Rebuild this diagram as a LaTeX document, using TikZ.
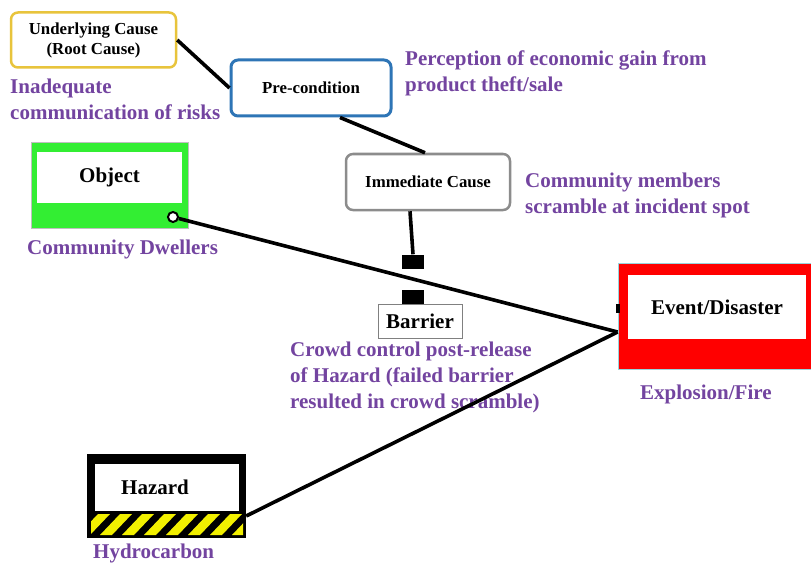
\documentclass[tikz,border=0pt]{standalone}
\usepackage{fontspec}
\setmainfont{Liberation Serif}
\definecolor{purp}{HTML}{7344A0}
\definecolor{gold}{HTML}{E8C43C}
\definecolor{preblue}{HTML}{2E75B6}
\definecolor{immgray}{HTML}{8C8C8C}
\definecolor{objgreen}{HTML}{33EE33}
\definecolor{hazyellow}{HTML}{F2F000}
\definecolor{evcyan}{HTML}{9AD4DC}
\begin{document}
\begin{tikzpicture}[x=1pt,y=-1pt,
  causebox/.style={rounded corners=7pt, fill=white, align=center, inner sep=0pt,
    font=\bfseries\fontsize{16.8}{20}\selectfont},
  boxlabel/.style={fill=white, inner sep=0pt, font=\bfseries\fontsize{21}{24}\selectfont},
  lbl/.style={text=purp, font=\bfseries\fontsize{21}{25.7}\selectfont, align=left,
    anchor=north west, inner sep=0pt},
  conn/.style={line width=3.6pt, black},
  blocksq/.style={fill=black, minimum width=22pt, minimum height=14pt, inner sep=0pt}]
\useasboundingbox (0,0) rectangle (811,567);
\fill[white] (0,0) rectangle (811,567);

% cause chain
\node[causebox, draw=gold, line width=2.5pt, minimum width=165pt, minimum height=55pt] (und) at (93.5,40) {Underlying Cause\\(Root Cause)};
\node[causebox, draw=preblue, line width=3pt, minimum width=160pt, minimum height=56pt] (pre) at (311,88) {Pre-condition};
\node[causebox, draw=immgray, line width=2.5pt, minimum width=164pt, minimum height=56pt] (imm) at (428,182) {Immediate Cause};

% barrier
\node[blocksq] (sq1) at (413,261.5) {};
\node[blocksq] (sq2) at (413,297) {};
\node[boxlabel, draw=gray, line width=0.8pt, minimum width=84pt, minimum height=34pt] (bar) at (420,321) {Barrier};

% object
\node[fill=objgreen, draw=gray!50, line width=0.6pt, minimum width=157pt, minimum height=86pt, inner sep=0pt] (objbg) at (110,185.5) {};
\node[boxlabel, minimum width=145pt, minimum height=51pt] (obj) at (109.5,177.5) {Object};
\node[circle, fill=white, draw=black, line width=2pt, minimum size=10pt, inner sep=0pt] (objport) at (173,217) {};

% event
\node[fill=red, draw=evcyan, line width=0.8pt, minimum width=193pt, minimum height=106pt, inner sep=0pt] (evbg) at (714.5,316) {};
\node[boxlabel, minimum width=178pt, minimum height=64pt] (ev) at (717,307) {Event/Disaster};
\fill[black] (616,304) rectangle (620,313);

% hazard
\node[fill=black, minimum width=159pt, minimum height=84pt, inner sep=0pt] (hzbg) at (166.5,496) {};
\node[fill=white, minimum width=144pt, minimum height=47pt, inner sep=0pt] (hzin) at (167,487.5) {};
\node[inner sep=0pt, font=\bfseries\fontsize{21}{24}\selectfont] (hz) at (155,487.5) {Hazard};
\begin{scope}
  \clip (91,514) rectangle (243,535);
  \foreach \i in {0,...,8}
    \fill[hazyellow] (78+\i*22,535) -- (90+\i*22,535) -- (110+\i*22,514) -- (98+\i*22,514) -- cycle;
\end{scope}

% labels
\node[lbl] (l1) at (405,51) {Perception of economic gain from\\product theft/sale};
\node[lbl] (l2) at (10,79) {Inadequate\\communication of risks};
\node[lbl] (l3) at (525,173) {Community members\\scramble at incident spot};
\node[lbl] (l4) at (27,240) {Community Dwellers};
\node[lbl] (l5) at (290,342) {Crowd control post-release\\of Hazard (failed barrier\\resulted in crowd scramble)};
\node[lbl] (l6) at (640,385) {Explosion/Fire};
\node[lbl] (l7) at (93,544) {Hydrocarbon};

% connectors
\draw[conn] (und.east) -- (pre.west);
\draw[conn] ([xshift=29pt]pre.south) -- ([xshift=-3pt]imm.north);
\draw[conn] ([xshift=-18pt]imm.south) -- (sq1.north);
\draw[conn] (objport) -- ([yshift=-16pt]evbg.west);
\draw[conn] ([yshift=-20pt]hzbg.east) -- ([yshift=-16pt]evbg.west);
\end{tikzpicture}
\end{document}
